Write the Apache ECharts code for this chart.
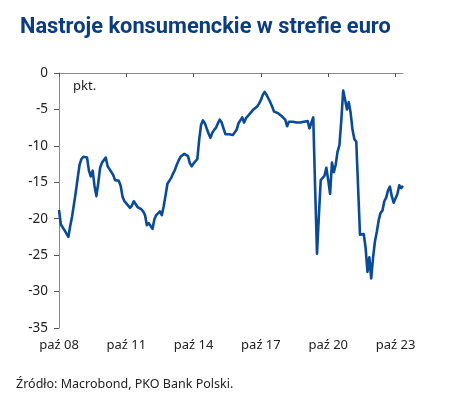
<!DOCTYPE html>
<html>
<head>
<meta charset="utf-8">
<script src="https://cdn.jsdelivr.net/npm/echarts@6/dist/echarts.min.js"></script>
<style>
html,body{margin:0;padding:0;background:#fff;}
#c{width:457px;height:402px;}
</style>
</head>
<body>
<div id="c"></div>
<script>
// Monthly series, Oct 2008 .. Feb 2024
var startYear = 2008, startMonth = 10;
var tickLabels = ["paź 08","paź 11","paź 14","paź 17","paź 20","paź 23"];
var yTicks = [0,-5,-10,-15,-20,-25,-30,-35];
var confidence = [
-18.8,-20.8,-21.0,-21.6,-21.6,-22.5,-21.0,-19.7,-18.0,-16.3,
-14.4,-12.6,-11.8,-11.5,-11.3,-11.6,-13.4,-14.2,-13.4,-15.5,
-16.9,-15.1,-13.0,-12.3,-12.4,-11.6,-12.8,-13.2,-13.1,-14.0,
-14.7,-14.7,-14.8,-15.5,-17.0,-17.6,-17.9,-18.0,-18.5,-18.2,
-17.6,-17.5,-18.4,-18.6,-18.7,-19.0,-19.5,-20.9,-20.6,-20.8,
-21.4,-20.1,-19.5,-19.3,-19.0,-19.5,-18.3,-16.8,-15.2,-14.8,
-14.4,-13.8,-13.3,-12.6,-12.0,-11.5,-11.4,-11.1,-11.1,-11.4,
-12.4,-12.8,-12.4,-12.3,-11.8,-9.1,-7.1,-6.5,-6.9,-7.6,
-8.3,-8.9,-8.2,-7.8,-7.5,-6.9,-6.4,-6.8,-7.6,-8.4,
-8.6,-8.4,-8.6,-8.5,-8.4,-7.8,-6.9,-6.5,-6.1,-6.8,
-6.2,-5.9,-5.6,-5.3,-5.0,-4.8,-4.6,-4.2,-3.7,-3.0,
-2.6,-3.0,-3.5,-4.0,-4.6,-5.3,-5.35,-5.5,-5.5,-5.9,
-5.7,-6.4,-7.3,-6.7,-6.5,-6.7,-6.5,-6.8,-6.8,-6.8,
-6.8,-6.7,-6.9,-6.6,-7.6,-6.8,-6.1,-15.8,-24.8,-19.6,
-14.7,-14.5,-14.1,-13.0,-14.7,-16.6,-12.3,-13.6,-12.6,-10.8,
-9.9,-6.5,-2.4,-3.6,-5.0,-4.0,-5.5,-7.8,-9.1,-9.4,
-9.6,-22.2,-22.3,-22.1,-24.0,-27.3,-25.3,-28.2,-25.3,-23.1,
-21.8,-20.2,-19.2,-18.9,-17.6,-17.1,-16.1,-15.6,-16.9,-17.8,
-17.8,-16.6,-15.4,-15.8,-15.5
];
var months = [];
for (var i = 0; i < confidence.length; i++) {
  var m = startMonth - 1 + i;
  months.push((startYear + Math.floor(m / 12)) + '-' + ('0' + (m % 12 + 1)).slice(-2));
}

var chart = echarts.init(document.getElementById('c'), null, {renderer: 'canvas'});
var font = '"Noto Sans", sans-serif';
chart.setOption({
  animation: false,
  backgroundColor: '#ffffff',
  title: {
    text: 'Nastroje konsumenckie w strefie euro',
    left: 15, top: 12,
    textStyle: {color: '#0b3c7c', fontSize: 21.8, fontWeight: 'bold', fontFamily: 'Roboto, sans-serif'}
  },
  graphic: [
    {type: 'text', left: 73, top: 80, style: {text: 'pkt.', fill: '#222', font: '13px ' + font}},
    {type: 'text', left: 16, top: 378, style: {text: 'Źródło: Macrobond, PKO Bank Polski.', fill: '#222', font: '12.5px ' + font}}
  ],
  grid: {left: 59, right: 54, top: 73, bottom: 74, containLabel: false},
  xAxis: [
    {
      type: 'category', data: months, boundaryGap: false, position: 'bottom',
      axisLine: {show: false}, axisTick: {show: false}, splitLine: {show: false},
      axisLabel: {
        interval: 35, margin: 11, color: '#222', fontSize: 13, fontFamily: font,
        formatter: function (v, idx) { return tickLabels[Math.round(idx / 36)] || ''; }
      }
    },
    {
      type: 'category', data: months, boundaryGap: false, position: 'top',
      axisLine: {show: true, onZero: false, lineStyle: {color: '#8a8a8a', width: 1}},
      axisTick: {show: true, inside: true, interval: 35, length: 4, lineStyle: {color: '#555'}},
      axisLabel: {show: false}, splitLine: {show: false}
    }
  ],
  yAxis: {
    type: 'value', min: -35, max: 0, interval: 5,
    axisLine: {show: true, lineStyle: {color: '#8a8a8a', width: 1}},
    axisTick: {show: true, length: 5, lineStyle: {color: '#555'}},
    splitLine: {show: false},
    axisLabel: {color: '#222', fontSize: 13.5, fontFamily: font, margin: 11}
  },
  series: [{
    type: 'line', data: confidence, xAxisIndex: 0, showSymbol: false,
    lineStyle: {color: '#0a4a96', width: 2.6, join: 'round'},
    itemStyle: {color: '#0a4a96'}
  }]
});
</script>
</body>
</html>
